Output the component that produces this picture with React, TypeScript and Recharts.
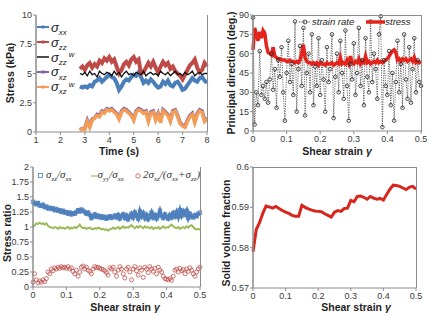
import { LineChart, Line, XAxis, YAxis } from "recharts";

const FONT = "'Liberation Sans', Arial, Helvetica, sans-serif";
const SERIF = "'Liberation Serif', 'Times New Roman', serif";
const AXIS = "#8c8c8c";

// (a) stress vs time
const timeA = [
  2.8, 2.9, 3.0, 3.1, 3.2, 3.3, 3.4, 3.5, 3.6, 3.7,
  3.8, 3.9, 4.0, 4.1, 4.2, 4.3, 4.4, 4.5, 4.6, 4.7,
  4.8, 4.9, 5.0, 5.1, 5.2, 5.3, 5.4, 5.5, 5.6, 5.7,
  5.8, 5.9, 6.0, 6.1, 6.2, 6.3, 6.4, 6.5, 6.6, 6.7,
  6.8, 6.9, 7.0, 7.1, 7.2, 7.3, 7.4, 7.5, 7.6, 7.7,
  7.8, 7.9, 8.0,
];
const sxxA = [
  3.9, 3.8, 3.9, 3.8, 4.0, 3.9, 4.3, 4.4, 4.6, 4.3,
  4.5, 4.7, 4.9, 4.7, 4.6, 4.2, 3.6, 3.9, 4.3, 4.5,
  4.4, 4.7, 4.9, 4.8, 5.1, 4.7, 4.2, 4.4, 4.2, 4.5,
  4.3, 4.0, 3.8, 3.9, 4.3, 4.1, 4.4, 4.0, 3.9, 4.2,
  4.3, 4.0, 3.6, 3.7, 4.0, 4.3, 4.6, 4.4, 4.3, 4.6,
  4.7, 4.4, 4.2,
];
const szzA = [
  5.4, 5.6, 5.3, 5.7, 5.9, 5.5, 5.8, 5.6, 6.1, 5.9,
  6.3, 6.1, 6.4, 6.0, 6.2, 5.6, 5.0, 5.3, 5.8, 6.0,
  5.7, 6.2, 6.4, 6.0, 6.2, 5.0, 5.1, 5.5, 5.9, 5.6,
  6.0, 5.5, 5.1, 5.6, 6.0, 5.7, 5.9, 5.4, 5.6, 5.2,
  5.0, 4.8, 4.5, 4.9, 5.3, 5.7, 5.9, 6.2, 5.5, 5.1,
  5.3, 5.9, 5.6,
];
const szzwA = [
  5.0, 4.9, 5.1, 4.8, 5.2, 4.9, 5.0, 4.7, 5.2, 5.0,
  4.9, 5.1, 5.0, 4.8, 5.2, 4.9, 5.1, 4.7, 5.0, 5.2,
  4.9, 5.0, 4.8, 5.1, 5.0, 4.9, 5.2, 4.8, 5.0, 5.1,
  4.9, 5.0, 4.8, 5.2, 5.0, 4.9, 5.1, 4.8, 5.0, 5.2,
  4.9, 5.0, 4.8, 5.1, 4.9, 5.0, 5.2, 4.8, 5.0, 5.1,
  4.9, 5.0, 5.0,
];
const sxzA = [
  0.2, 0.3, 0.3, 1.0, 0.5, 1.1, 1.2, 1.5, 1.4, 1.8,
  1.7, 2.0, 1.9, 2.0, 1.8, 1.6, 1.2, 1.8, 2.0, 1.9,
  1.7, 1.5, 1.1, 1.8, 2.0, 1.9, 1.7, 1.8, 1.0, 1.7,
  1.8, 1.1, 1.6, 0.9, 1.9, 1.7, 1.5, 1.0, 1.8, 1.9,
  1.4, 0.8, 0.6, 0.5, 1.0, 1.4, 1.6, 0.9, 1.6, 1.9,
  1.8, 1.0, 1.2,
];
const sxzwA = [
  0.1, 0.3, 0.2, 0.9, 0.4, 1.0, 1.2, 1.4, 1.3, 1.7,
  1.6, 1.9, 1.8, 1.9, 1.7, 1.5, 1.1, 1.7, 1.9, 1.8,
  1.6, 1.4, 1.0, 1.7, 1.9, 1.8, 1.6, 1.7, 0.9, 1.6,
  1.7, 1.0, 1.5, 0.8, 1.8, 1.6, 1.4, 0.9, 1.7, 1.8,
  1.3, 0.7, 0.5, 0.4, 0.9, 1.3, 1.5, 0.8, 1.5, 1.8,
  1.7, 0.9, 1.1,
];
const timeTicks = [1, 2, 3, 4, 5, 6, 7, 8];
const stressTicks = [0, 2.5, 5, 7.5, 10];

// (b) principal direction vs shear strain (step 0.005)
const strainRateB = [
  88, 5, 30, 20, 62, 28, 35, 25, 38, 22,
  40, 60, 32, 48, 18, 55, 42, 65, 30, 8,
  45, 70, 38, 52, 28, 85, 15, 48, 66, 35,
  80, 12, 45, 60, 30, 75, 20, 50, 35, 72,
  28, 55, 40, 15, 65, 38, 48, 75, 10, 42,
  60, 30, 70, 45, 25, 78, 35, 8, 52, 40,
  68, 28, 45, 80, 35, 55, 20, 72, 42, 30,
  85, 38, 60, 48, 25, 75, 89, 3, 55, 35,
  28, 62, 20, 45, 8, 38, 70, 30, 52, 18,
  75, 40, 25, 65, 22, 48, 72, 30, 55, 38,
  35,
];
const stressDirB = [
  63, 80, 75, 70, 77, 72, 78, 76, 66, 61,
  60, 59, 65, 58, 57, 56, 56, 55, 55, 55,
  54, 54, 55, 54, 54, 53, 54, 53, 55, 60,
  67, 57, 54, 53, 53, 52, 53, 52, 53, 51,
  53, 52, 52, 51, 53, 52, 52, 53, 51, 52,
  53, 52, 57, 52, 53, 52, 55, 52, 58, 53,
  52, 54, 53, 56, 52, 54, 53, 58, 53, 54,
  52, 53, 54, 53, 55, 53, 54, 53, 54, 55,
  56, 58, 60, 62, 63, 61, 55, 56, 54, 56,
  55, 56, 54, 55, 56, 54, 57, 53, 54, 53,
  54,
];
const angleTicks = [0, 15, 30, 45, 60, 75, 90];
const strainTicks = [0, 0.1, 0.2, 0.3, 0.4, 0.5];

// (c) stress ratios vs shear strain (step 0.005)
const zzOverXx = [
  1.42, 1.40, 1.38, 1.40, 1.36, 1.35, 1.37, 1.33, 1.34, 1.31,
  1.32, 1.30, 1.31, 1.28, 1.30, 1.27, 1.28, 1.25, 1.27, 1.24,
  1.25, 1.22, 1.24, 1.21, 1.23, 1.22, 1.25, 1.28, 1.26, 1.29,
  1.27, 1.25, 1.22, 1.24, 1.20, 1.15, 1.18, 1.21, 1.17, 1.19,
  1.16, 1.18, 1.15, 1.17, 1.14, 1.16, 1.18, 1.15, 1.17, 1.19,
  1.16, 1.20, 1.14, 1.18, 1.21, 1.15, 1.19, 1.13, 1.17, 1.22,
  1.16, 1.24, 1.19, 1.14, 1.26, 1.18, 1.23, 1.15, 1.20, 1.13,
  1.17, 1.24, 1.16, 1.20, 1.14, 1.19, 1.27, 1.18, 1.15, 1.21,
  1.17, 1.14, 1.20, 1.16, 1.23, 1.18, 1.25, 1.17, 1.28, 1.19,
  1.26, 1.21, 1.27, 1.15, 1.22, 1.18, 1.16, 1.20, 1.18, 1.22,
  1.24,
];
const yyOverXx = [
  1.00, 1.03, 1.06, 1.05, 1.07, 1.05, 1.06, 1.04, 1.06, 1.02,
  1.00, 0.99, 0.98, 1.00, 0.99, 0.97, 1.00, 0.98, 0.99, 0.97,
  0.99, 1.00, 0.97, 0.99, 0.98, 1.00, 0.98, 1.01, 1.04, 1.00,
  0.98, 0.99, 0.97, 0.98, 0.99, 0.97, 0.96, 0.98, 0.97, 0.99,
  0.98, 0.96, 0.97, 0.95, 0.96, 0.94, 0.96, 0.97, 0.99, 0.97,
  0.98, 1.00, 0.97, 0.99, 1.01, 0.98, 1.00, 0.99, 1.01, 1.03,
  1.00, 0.98, 1.01, 0.99, 1.02, 1.00, 0.98, 1.01, 0.99, 1.00,
  0.98, 1.00, 0.97, 0.99, 0.98, 1.00, 0.97, 0.99, 1.01, 0.98,
  1.00, 0.99, 1.02, 1.04, 1.01, 0.99, 0.98, 1.00, 0.97, 0.99,
  1.00, 0.98, 1.01, 0.99, 1.02, 1.03, 1.00, 0.97, 0.96, 0.97,
  0.95,
];
const shearRatio = [
  0.08, 0.22, 0.12, 0.07, 0.10, 0.08, 0.12, 0.09, 0.14, 0.25,
  0.22, 0.30, 0.27, 0.32, 0.30, 0.33, 0.31, 0.34, 0.32, 0.33,
  0.31, 0.34, 0.30, 0.32, 0.26, 0.22, 0.28, 0.18, 0.25, 0.33,
  0.35, 0.30, 0.33, 0.28, 0.26, 0.22, 0.30, 0.34, 0.32, 0.33,
  0.31, 0.30, 0.29, 0.27, 0.24, 0.20, 0.32, 0.30, 0.33, 0.25,
  0.18, 0.28, 0.34, 0.30, 0.22, 0.15, 0.30, 0.33, 0.25, 0.12,
  0.30, 0.34, 0.27, 0.20, 0.32, 0.28, 0.16, 0.33, 0.30, 0.24,
  0.34, 0.30, 0.26, 0.31, 0.22, 0.33, 0.28, 0.25, 0.18, 0.14,
  0.13, 0.12, 0.14, 0.11, 0.18, 0.28, 0.30, 0.25, 0.31, 0.27,
  0.29, 0.22, 0.30, 0.26, 0.32, 0.28, 0.22, 0.18, 0.25, 0.30,
  0.33,
];
const ratioTicks = [0, 0.25, 0.5, 0.75, 1, 1.25, 1.5, 1.75, 2];

// (d) solid volume fraction (step 0.01)
const volFrac = [
  0.5790, 0.5845, 0.5862, 0.5885, 0.5903, 0.5901, 0.5898, 0.5902, 0.5897, 0.5892,
  0.5888, 0.5885, 0.5880, 0.5878, 0.5878, 0.5905, 0.5900, 0.5896, 0.5893, 0.5891,
  0.5890, 0.5889, 0.5884, 0.5880, 0.5876, 0.5888, 0.5892, 0.5890, 0.5897, 0.5898,
  0.5917, 0.5914, 0.5927, 0.5928, 0.5925, 0.5920, 0.5927, 0.5923, 0.5920, 0.5922,
  0.5918, 0.5932, 0.5945, 0.5955, 0.5954, 0.5952, 0.5948, 0.5944, 0.5950, 0.5952,
  0.5945,
];
const volTicks = [0.57, 0.58, 0.59, 0.6];

const grid005 = strainRateB.map((_, i) => Math.round(i * 5) / 1000);
const grid01 = volFrac.map((_, i) => i / 100);

const dataA = timeA.map((t, i) => ({
  x: t,
  sxx: sxxA[i],
  szz: szzA[i],
  szzw: szzwA[i],
  sxz: sxzA[i],
  sxzw: sxzwA[i],
}));
const dataB = grid005.map((g, i) => ({ x: g, rate: strainRateB[i], stress: stressDirB[i] }));
const dataC = grid005.map((g, i) => ({ x: g, zz: zzOverXx[i], yy: yyOverXx[i], xz: shearRatio[i] }));
const dataD = grid01.map((g, i) => ({ x: g, phi: volFrac[i] }));

const yTick = (p: any) => (
  <text x={p.x} y={p.y} dy={3} textAnchor="end" fill="#3a3a3a" fontSize={9} fontFamily={FONT}>
    {p.payload.value}
  </text>
);
const xTick = (p: any) => (
  <text x={p.x} y={p.y} dy={7} textAnchor="middle" fill="#3a3a3a" fontSize={9} fontFamily={FONT}>
    {p.payload.value}
  </text>
);

const axisBase = {
  tickSize: 3,
  tickMargin: 1,
  axisLine: { stroke: AXIS },
  tickLine: { stroke: AXIS },
  interval: 0 as const,
};

const openCircle = (color: string, r: number) => (p: any) =>
  p.cy == null ? (
    <g key={p.index} />
  ) : (
    <circle key={p.index} cx={p.cx} cy={p.cy} r={r} fill="none" stroke={color} strokeWidth={0.8} />
  );

const openSquare = (color: string, s: number) => (p: any) =>
  p.cy == null ? (
    <g key={p.index} />
  ) : (
    <rect key={p.index} x={p.cx - s / 2} y={p.cy - s / 2} width={s} height={s} fill="none" stroke={color} strokeWidth={0.8} />
  );

// value axis in its own single-series layer on top, so all tick labels render
function ValueAxis(props: {
  w: number;
  h: number;
  data: any[];
  dataKey: string;
  margin: any;
  xDomain: number[];
  xHeight: number;
  yDomain: number[];
  yTicks: number[];
  yWidth: number;
}) {
  return (
    <div style={{ position: "absolute", left: 0, top: 0, pointerEvents: "none" }}>
      <LineChart width={props.w} height={props.h} data={props.data} margin={props.margin}>
        <XAxis dataKey="x" type="number" domain={props.xDomain} height={props.xHeight} tick={false} axisLine={false} tickLine={false} />
        <YAxis type="number" domain={props.yDomain} ticks={props.yTicks} width={props.yWidth} tick={yTick} {...axisBase} />
        <Line dataKey={props.dataKey} stroke="transparent" strokeWidth={0} dot={false} isAnimationActive={false} />
      </LineChart>
    </div>
  );
}

function Sig({ sub, sup, size = 13 }: { sub: string; sup?: string; size?: number }) {
  return (
    <span style={{ fontStyle: "italic", fontSize: size }}>
      σ
      <span style={{ fontSize: size * 0.6, position: "relative", top: size * 0.25 }}>{sub}</span>
      {sup && <span style={{ fontSize: size * 0.6, position: "relative", top: -size * 0.35, marginLeft: 2 }}>{sup}</span>}
    </span>
  );
}

const titleStyle = {
  position: "absolute" as const,
  whiteSpace: "nowrap" as const,
  fontFamily: FONT,
  fontWeight: 700,
  fontSize: 10.5,
  color: "#1f1f1f",
  pointerEvents: "none" as const,
};

function YTitle({ x, y, children }: { x: number; y: number; children: any }) {
  return (
    <div style={{ ...titleStyle, left: x, top: y, transform: "translate(-50%, -50%) rotate(-90deg)" }}>{children}</div>
  );
}

function XTitle({ x, y, children }: { x: number; y: number; children: any }) {
  return <div style={{ ...titleStyle, left: x, top: y, transform: "translate(-50%, -50%)" }}>{children}</div>;
}

// plot-area frame lines (Excel draws a light border round the plot area)
function Frame({ x, y, w, h, top }: { x: number; y: number; w: number; h: number; top: boolean }) {
  return (
    <div
      style={{
        position: "absolute",
        left: x,
        top: y,
        width: w,
        height: h,
        boxSizing: "border-box",
        borderRight: `1px solid ${AXIS}`,
        borderTop: top ? `1px solid ${AXIS}` : "none",
        pointerEvents: "none",
      }}
    />
  );
}

const shear = (
  <>
    Shear strain <span style={{ fontStyle: "italic" }}>γ</span>
  </>
);

const legendA = [
  { sub: "xx", sup: "", color: "#4A7EBB", w: 2 },
  { sub: "zz", sup: "", color: "#BE4B48", w: 2 },
  { sub: "zz", sup: "w", color: "#111111", w: 1.5 },
  { sub: "xz", sup: "", color: "#7E62A1", w: 2 },
  { sub: "xz", sup: "w", color: "#F59D56", w: 2 },
];

const sub = { fontSize: 7 };
const mA = { top: 15, right: 7, bottom: 0, left: 0 };
const mB = { top: 15, right: 8, bottom: 0, left: 0 };
const mC = { top: 9, right: 14, bottom: 0, left: 0 };
const mD = { top: 9, right: 13, bottom: 0, left: 0 };

export default function App() {
  return (
    <div style={{ position: "absolute", left: 0, top: 0, width: 429, height: 316, background: "#fff", overflow: "hidden" }}>
      {/* (a) */}
      <div style={{ position: "absolute", left: 0, top: 0, width: 214, height: 158 }}>
        <LineChart width={214} height={158} data={dataA} margin={mA}>
          <XAxis dataKey="x" type="number" domain={[1, 8]} ticks={timeTicks} height={26} tick={xTick} {...axisBase} />
          <YAxis type="number" domain={[0, 10]} ticks={stressTicks} width={36} tick={false} {...axisBase} />
          <Line dataKey="sxx" stroke="#4A7EBB" strokeWidth={4} dot={false} isAnimationActive={false} />
          <Line dataKey="szz" stroke="#BE4B48" strokeWidth={4} dot={false} isAnimationActive={false} />
          <Line dataKey="szzw" stroke="#111111" strokeWidth={1.3} dot={false} isAnimationActive={false} />
          <Line dataKey="sxz" stroke="#7E62A1" strokeWidth={3.5} dot={false} isAnimationActive={false} />
          <Line dataKey="sxzw" stroke="#F59D56" strokeWidth={3.5} dot={false} isAnimationActive={false} />
        </LineChart>
        <Frame x={36} y={15} w={172} h={117} top={false} />
        <div style={{ position: "absolute", left: 37, top: 20, fontFamily: FONT, color: "#222" }}>
          {legendA.map((e, i) => (
            <div key={i} style={{ display: "flex", alignItems: "center", height: 14.8 }}>
              <svg width={12} height={6} style={{ marginRight: 2 }}>
                <line x1={0} y1={3} x2={12} y2={3} stroke={e.color} strokeWidth={e.w} />
                {e.color !== "#111111" && <rect x={4.5} y={1.5} width={3} height={3} fill={e.color} />}
              </svg>
              <Sig sub={e.sub} sup={e.sup} />
            </div>
          ))}
        </div>
        <YTitle x={10} y={73}>Stress (kPa)</YTitle>
        <XTitle x={119} y={151}>Time (s)</XTitle>
        <ValueAxis w={214} h={158} data={dataA} dataKey="sxx" margin={mA} xDomain={[1, 8]} xHeight={26} yDomain={[0, 10]} yTicks={stressTicks} yWidth={36} />
      </div>

      {/* (b) */}
      <div style={{ position: "absolute", left: 214, top: 0, width: 215, height: 158 }}>
        <LineChart width={215} height={158} data={dataB} margin={mB}>
          <XAxis dataKey="x" type="number" domain={[0, 0.5]} ticks={strainTicks} height={27} tick={xTick} {...axisBase} />
          <YAxis type="number" domain={[0, 90]} ticks={angleTicks} width={39} tick={false} {...axisBase} />
          <Line
            dataKey="rate"
            stroke="#2a2a2a"
            strokeWidth={0.7}
            strokeDasharray="1.2 1.2"
            dot={openCircle("#222", 1.8)}
            isAnimationActive={false}
          />
          <Line dataKey="stress" stroke="#E3241D" strokeWidth={3.5} dot={false} isAnimationActive={false} />
        </LineChart>
        <Frame x={39} y={15} w={169} h={117} top={true} />
        <div style={{ position: "absolute", left: 85, top: 16, display: "flex", alignItems: "center", fontFamily: FONT, fontStyle: "italic", fontSize: 9.5, color: "#222" }}>
          <svg width={12} height={8} style={{ marginRight: 1 }}>
            <line x1={0} y1={4} x2={12} y2={4} stroke="#222" strokeWidth={0.8} strokeDasharray="1.2 1.2" />
            <circle cx={6} cy={4} r={2} fill="none" stroke="#222" strokeWidth={0.8} />
          </svg>
          <span>strain rate</span>
          <svg width={19} height={8} style={{ marginLeft: 12 }}>
            <line x1={0} y1={4} x2={19} y2={4} stroke="#E3241D" strokeWidth={3.5} />
          </svg>
          <span>stress</span>
        </div>
        <YTitle x={17} y={73}>Principal direction (deg.)</YTitle>
        <XTitle x={123} y={151}>{shear}</XTitle>
        <ValueAxis w={215} h={158} data={dataB} dataKey="stress" margin={mB} xDomain={[0, 0.5]} xHeight={27} yDomain={[0, 90]} yTicks={angleTicks} yWidth={39} />
      </div>

      {/* (c) */}
      <div style={{ position: "absolute", left: 0, top: 158, width: 214, height: 158 }}>
        <LineChart width={214} height={158} data={dataC} margin={mC}>
          <XAxis dataKey="x" type="number" domain={[0, 0.5]} ticks={strainTicks} height={29} tick={xTick} {...axisBase} />
          <YAxis type="number" domain={[0, 2]} ticks={ratioTicks} width={33} tick={false} {...axisBase} />
          <Line dataKey="zz" stroke="#4F81BD" strokeWidth={3.5} dot={openSquare("#4F81BD", 3.5)} isAnimationActive={false} />
          <Line dataKey="yy" stroke="#9BBB59" strokeWidth={2} dot={false} isAnimationActive={false} />
          <Line dataKey="xz" stroke="none" dot={openCircle("#C0504D", 2)} isAnimationActive={false} />
        </LineChart>
        <Frame x={33} y={9} w={168} h={120} top={false} />
        <div style={{ position: "absolute", left: 38, top: 10, display: "flex", alignItems: "center", fontFamily: SERIF, fontStyle: "italic", fontSize: 11, color: "#333", whiteSpace: "nowrap" }}>
          <svg width={6} height={6} style={{ marginRight: 2 }}>
            <rect x={0.5} y={0.5} width={4} height={4} fill="none" stroke="#4F81BD" strokeWidth={0.8} />
          </svg>
          <span>
            σ<sub style={sub}>zz</sub>/σ<sub style={sub}>xx</sub>
          </span>
          <svg width={6} height={6} style={{ marginLeft: 19, marginRight: 1 }}>
            <line x1={0} y1={3} x2={6} y2={3} stroke="#9BBB59" strokeWidth={1.2} />
          </svg>
          <span>
            σ<sub style={sub}>yy</sub>/σ<sub style={sub}>xx</sub>
          </span>
          <svg width={6} height={6} style={{ marginLeft: 11, marginRight: 2 }}>
            <circle cx={3} cy={3} r={2.2} fill="none" stroke="#C0504D" strokeWidth={0.8} />
          </svg>
          <span>
            2σ<sub style={sub}>xz</sub>/(σ<sub style={sub}>xx</sub>+σ<sub style={sub}>zz</sub>)
          </span>
        </div>
        <YTitle x={7} y={75}>Stress ratio</YTitle>
        <XTitle x={125} y={149}>{shear}</XTitle>
        <ValueAxis w={214} h={158} data={dataC} dataKey="yy" margin={mC} xDomain={[0, 0.5]} xHeight={29} yDomain={[0, 2]} yTicks={ratioTicks} yWidth={33} />
      </div>

      {/* (d) */}
      <div style={{ position: "absolute", left: 214, top: 158, width: 215, height: 158 }}>
        <LineChart width={215} height={158} data={dataD} margin={mD}>
          <XAxis dataKey="x" type="number" domain={[0, 0.5]} ticks={strainTicks} height={28} tick={xTick} {...axisBase} />
          <YAxis type="number" domain={[0.57, 0.6]} ticks={volTicks} width={39} tick={false} {...axisBase} />
          <Line dataKey="phi" stroke="#D7261E" strokeWidth={3} dot={false} isAnimationActive={false} />
        </LineChart>
        <Frame x={39} y={9} w={164} h={121} top={true} />
        <YTitle x={12} y={75}>Solid volume fraction</YTitle>
        <XTitle x={142} y={149}>{shear}</XTitle>
        <ValueAxis w={215} h={158} data={dataD} dataKey="phi" margin={mD} xDomain={[0, 0.5]} xHeight={28} yDomain={[0.57, 0.6]} yTicks={volTicks} yWidth={39} />
      </div>
    </div>
  );
}
